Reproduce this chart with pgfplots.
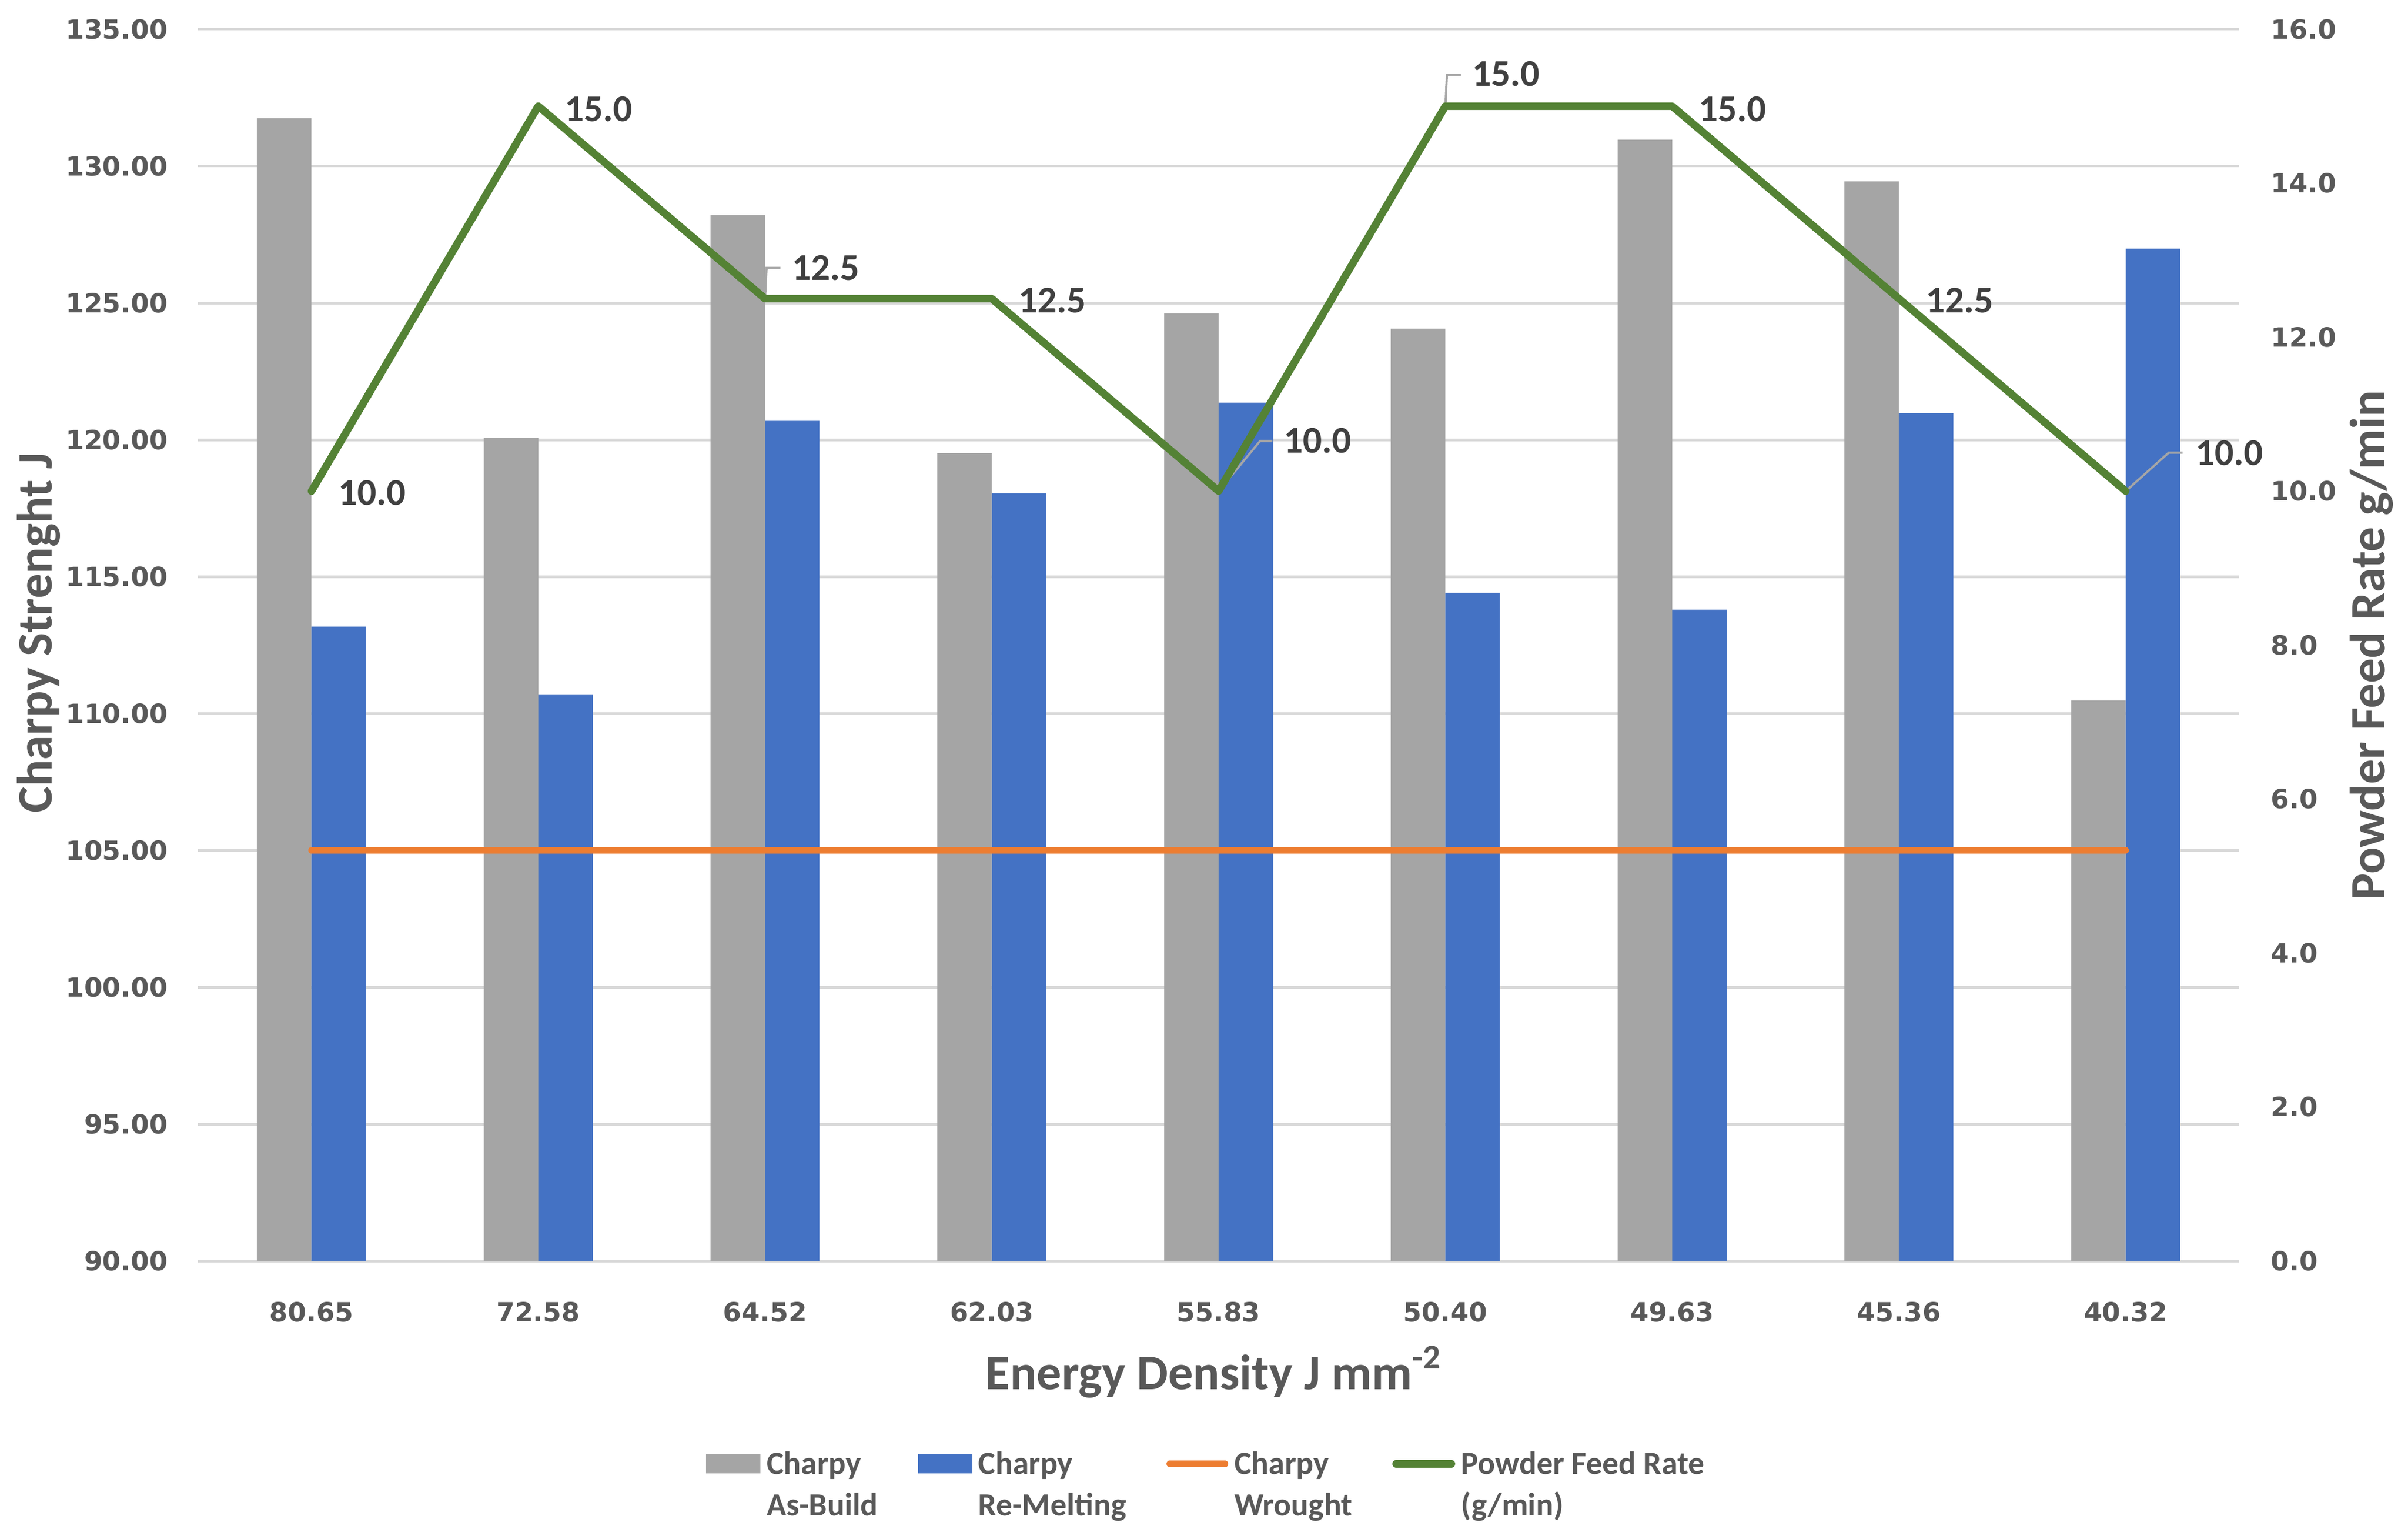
\documentclass[border=0pt]{standalone}
\usepackage{fontspec}
\setmainfont{Carlito}
\newfontfamily\tickfont{DejaVu Sans}
\usepackage{pgfplots}
\usepackage{pgfplotstable}
\pgfplotsset{compat=1.18}

\definecolor{asbuild}{HTML}{A5A5A5}
\definecolor{remelt}{HTML}{4472C4}
\definecolor{wrought}{HTML}{ED7D31}
\definecolor{feed}{HTML}{548235}
\definecolor{gridc}{HTML}{D9D9D9}
\definecolor{txt}{HTML}{595959}
\definecolor{lbl}{HTML}{404040}
\definecolor{leadc}{HTML}{A6A6A6}

% Charpy values (J), categories = energy density
\pgfplotstableread{
x asbuild remelt wrought
0 131.75 113.17 105
1 120.07 110.70 105
2 128.21 120.69 105
3 119.51 118.05 105
4 124.62 121.36 105
5 124.06 114.41 105
6 130.96 113.79 105
7 129.44 120.97 105
8 110.48 126.98 105
}\charpy

% powder feed rate; dx/dy = label offsets in mm
\pgfplotstableread{
x feed dx dy
0 10.0 1.5 -0.1
1 15.0 1.5 -0.2
2 12.5 1.5 2.0
3 12.5 1.5 -0.1
4 10.0 4.0 3.3
5 15.0 1.5 2.1
6 15.0 1.5 -0.2
7 12.5 1.5 -0.1
8 10.0 4.3 2.5
}\feedrate

% leader lines of the moved data labels (right-axis units)
\pgfplotstableread{
x y
2 12.5
2.0068 12.899
2.0677 12.899
nan nan
4 10
4.1828 10.650
4.2370 10.650
nan nan
5 15
5.0068 15.405
5.0677 15.405
nan nan
8 10
8.1896 10.499
8.2505 10.499
}\leaders

\tikzset{titlefont/.style={font=\bfseries\fontsize{9.2}{11}\selectfont, text=txt}}

\pgfplotsset{
  base/.style={
    scale only axis,
    width=13.29cm, height=8.02cm,
    xmin=-0.5, xmax=8.5,
    axis line style={draw=none},
    major tick length=0pt,
    tick label style={font=\tickfont\bfseries\fontsize{4.9}{5.5}\selectfont, text=txt, inner sep=0pt},
    /pgf/number format/assume math mode=true,
  },
}

\begin{document}
\begin{tikzpicture}
\useasboundingbox (-1.29cm,-1.81cm) rectangle (14.39cm,8.21cm);

\begin{axis}[base,
    ymin=90, ymax=135,
    ytick={90,95,...,135},
    ymajorgrids,
    grid style={gridc, line width=0.5pt},
    yticklabel style={/pgf/number format/.cd, fixed, fixed zerofill, precision=2, /tikz/.cd, xshift=-1.9mm},
    xtick={0,...,8},
    xticklabels={80.65,72.58,64.52,62.03,55.83,50.40,49.63,45.36,40.32},
    xticklabel style={yshift=-2.6mm},
    ylabel={Charpy Strenght J},
    xlabel={Energy Density J mm\textsuperscript{-2}},
    every axis y label/.style={at={(axis description cs:-0.078,0.51)}, rotate=90, anchor=center, titlefont},
    every axis x label/.style={at={(axis description cs:0.498,-0.09)}, anchor=center, titlefont},
  ]
  \addplot[ybar, bar width=3.55mm, bar shift=-1.775mm, fill=asbuild, draw=none] table[x=x, y=asbuild] {\charpy};
  \addplot[ybar, bar width=3.55mm, bar shift=1.775mm, fill=remelt, draw=none] table[x=x, y=remelt] {\charpy};
  \addplot[wrought, line width=1.2pt, line cap=round, mark=none] table[x=x, y=wrought] {\charpy};
\end{axis}

\begin{axis}[base,
    axis y line*=right, axis x line=none,
    ymin=0, ymax=16,
    ytick={0,2,...,16},
    yticklabel style={/pgf/number format/.cd, fixed, fixed zerofill, precision=1, /tikz/.cd, xshift=2mm},
    ylabel={Powder Feed Rate g/min},
    every axis y label/.style={at={(axis description cs:1.065,0.5)}, rotate=90, anchor=center, titlefont},
    unbounded coords=jump,
    legend columns=4,
    legend style={draw=none, at={(0.495,-0.135)}, anchor=north,
      font=\bfseries\fontsize{6}{7.7}\selectfont, text=txt,
      nodes={inner sep=0.4mm},
      /tikz/every even column/.append style={column sep=2.2mm}},
  ]
  \addlegendimage{legend image code/.code={\fill[asbuild] (0mm,-0.55mm) rectangle (3.4mm,0.55mm);}}
  \addlegendentry{\begin{tabular}[t]{@{}l@{}}Charpy\\As-Build\end{tabular}}
  \addlegendimage{legend image code/.code={\fill[remelt] (0mm,-0.55mm) rectangle (3.4mm,0.55mm);}}
  \addlegendentry{\begin{tabular}[t]{@{}l@{}}Charpy\\Re-Melting\end{tabular}}
  \addlegendimage{legend image code/.code={\draw[wrought, line width=1.2pt, line cap=round] (0mm,0mm) -- (3.6mm,0mm);}}
  \addlegendentry{\begin{tabular}[t]{@{}l@{}}Charpy\\Wrought\end{tabular}}

  \addplot[leadc, line width=0.4pt, mark=none, forget plot] table[x=x, y=y] {\leaders};

  \addplot[feed, line width=1.4pt, line cap=round, line join=round, mark=none,
    legend image code/.code={\draw[feed, line width=1.4pt, line cap=round] (0mm,0mm) -- (3.6mm,0mm);},
    point meta=y,
    visualization depends on={\thisrow{dx} \as \dx},
    visualization depends on={\thisrow{dy} \as \dy},
    nodes near coords={\pgfmathprintnumber[fixed, fixed zerofill, precision=1]{\pgfplotspointmeta}},
    every node near coord/.append style={anchor=west, inner sep=0pt, xshift=\dx mm, yshift=\dy mm,
      font=\bfseries\fontsize{7}{8}\selectfont, text=lbl},
  ] table[x=x, y=feed] {\feedrate};
  \addlegendentry{\begin{tabular}[t]{@{}l@{}}Powder Feed Rate\\(g/min)\end{tabular}}
\end{axis}
\end{tikzpicture}
\end{document}
